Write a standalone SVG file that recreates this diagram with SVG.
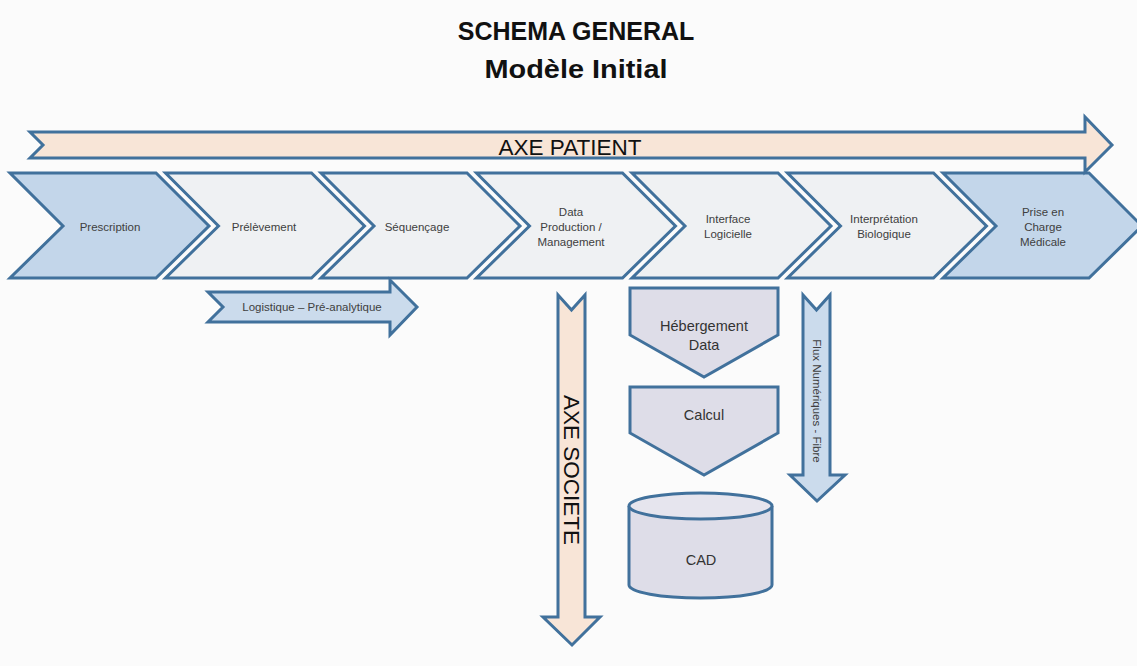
<svg xmlns="http://www.w3.org/2000/svg" width="1137" height="666" viewBox="0 0 1137 666">
  <style>
    .shape { stroke: #41719c; stroke-width: 3; stroke-linejoin: miter; }
    .blue { fill: #c3d6ea; }
    .grey { fill: #eff1f3; }
    .peach { fill: #f8e5d7; }
    .lblue { fill: #cbdbec; }
    .lav { fill: #dedde8; }
    .small { font-family: "Liberation Sans", Arial, sans-serif; font-size: 11.5px; fill: #404040; text-anchor: middle; }
    .mid { font-family: "Liberation Sans", Arial, sans-serif; font-size: 14.5px; fill: #333333; text-anchor: middle; }
    .axis { font-family: "Liberation Sans", Arial, sans-serif; font-size: 22.5px; fill: #111111; text-anchor: middle; }
    .title { font-family: "Liberation Sans", Arial, sans-serif; font-weight: bold; font-size: 25px; fill: #111111; text-anchor: middle; }
  </style>
  <rect width="1137" height="666" fill="#fbfbfb"/>

  <!-- title -->
  <g id="title">
    <text class="title" x="576" y="40">SCHEMA GENERAL</text>
    <text class="title" x="576" y="78" font-size="26" textLength="183" lengthAdjust="spacingAndGlyphs">Modèle Initial</text>
  </g>

  <!-- process chevrons -->
  <g id="prescription">
    <path class="shape blue" d="M10,173 H156 L209,226 L156,278 H10 L63,226 Z"/>
    <text class="small" x="110" y="231">Prescription</text>
  </g>
  <g id="prelevement">
    <path class="shape grey" d="M165.5,173 H311.5 L364.5,226 L311.5,278 H165.5 L218.5,226 Z"/>
    <text class="small" x="264" y="231">Prélèvement</text>
  </g>
  <g id="sequencage">
    <path class="shape grey" d="M321,173 H467 L520,226 L467,278 H321 L374,226 Z"/>
    <text class="small" x="417" y="231">Séquençage</text>
  </g>
  <g id="data-production">
    <path class="shape grey" d="M476.5,173 H622.5 L675.5,226 L622.5,278 H476.5 L529.5,226 Z"/>
    <text class="small" x="571" y="216">Data</text>
    <text class="small" x="571" y="231">Production /</text>
    <text class="small" x="571" y="246">Management</text>
  </g>
  <g id="interface-logicielle">
    <path class="shape grey" d="M632,173 H778 L831,226 L778,278 H632 L685,226 Z"/>
    <text class="small" x="728" y="223">Interface</text>
    <text class="small" x="728" y="238">Logicielle</text>
  </g>
  <g id="interpretation-biologique">
    <path class="shape grey" d="M787.5,173 H933.5 L986.5,226 L933.5,278 H787.5 L840.5,226 Z"/>
    <text class="small" x="884" y="223">Interprétation</text>
    <text class="small" x="884" y="238">Biologique</text>
  </g>
  <g id="prise-en-charge">
    <path class="shape blue" d="M943,173 H1089 L1142,226 L1089,278 H943 L996,226 Z"/>
    <text class="small" x="1043" y="216">Prise en</text>
    <text class="small" x="1043" y="231">Charge</text>
    <text class="small" x="1043" y="246">Médicale</text>
  </g>

  <!-- data processing column -->
  <g id="hebergement-data">
    <path class="shape lav" d="M630,288 H778 V335 L704,377 L630,335 Z"/>
    <text class="mid" x="704" y="331">Hébergement</text>
    <text class="mid" x="704" y="350">Data</text>
  </g>
  <g id="calcul">
    <path class="shape lav" d="M630,387 H778 V433 L704,475 L630,433 Z"/>
    <text class="mid" x="704" y="420">Calcul</text>
  </g>
  <g id="cad">
    <path class="shape lav" d="M629,506 V585 A71.5,13 0 0 0 772,585 V506"/>
    <ellipse class="shape" cx="700.5" cy="506" rx="71.5" ry="13" fill="#e6e5ee"/>
    <text class="mid" x="701" y="565">CAD</text>
  </g>

  <!-- flow arrows -->
  <g id="connectors">
    <g id="axe-patient">
      <path class="shape peach" d="M30,132 H1085 V117 L1112,145 L1085,172 V158 H30 L43,145 Z"/>
      <text class="axis" x="570" y="155">AXE PATIENT</text>
    </g>
    <g id="logistique">
      <path class="shape lblue" d="M208,292 H390 V280 L417,307 L390,335 V322 H208 L223,307 Z"/>
      <text class="small" x="312" y="311">Logistique – Pré-analytique</text>
    </g>
    <g id="axe-societe">
      <path class="shape peach" d="M558,295 L571.5,310 L585,295 V617 H600 L572,645 L543,617 H558 Z"/>
      <text class="axis" transform="translate(564,470) rotate(90)" x="0" y="0">AXE SOCIETE</text>
    </g>
    <g id="flux-numeriques">
      <path class="shape lblue" d="M803,295 L816.5,310 L830,295 V475 H845 L817,501 L790,475 H803 Z"/>
      <text class="small" transform="translate(813,401) rotate(90)" x="0" y="0">Flux Numériques - Fibre</text>
    </g>
  </g>
</svg>
